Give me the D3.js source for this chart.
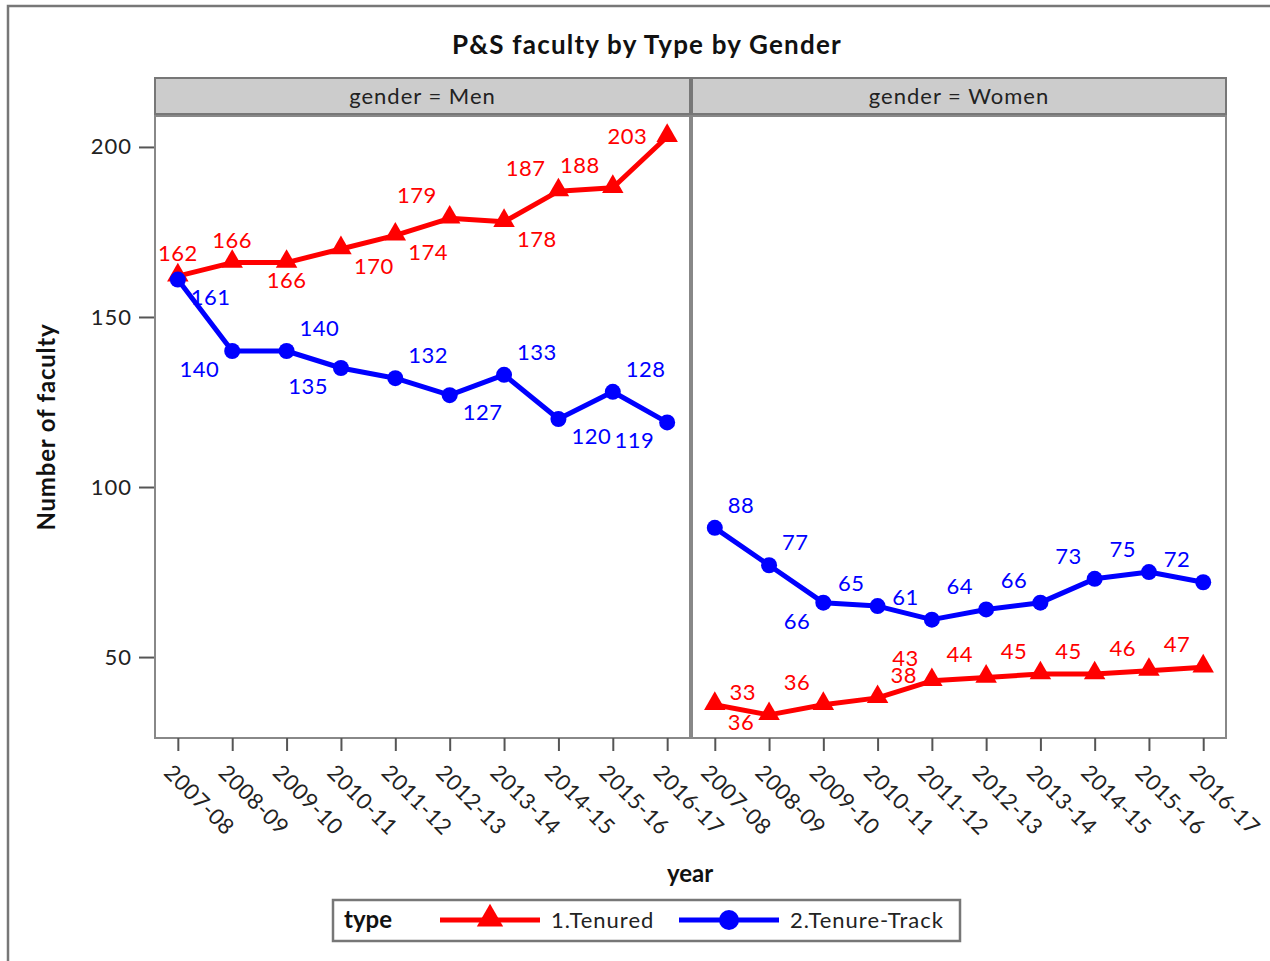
<!DOCTYPE html>
<html>
<head>
<meta charset="utf-8">
<script src="https://cdn.jsdelivr.net/npm/d3@7"></script>
<style>
  body { margin: 0; background: #fff; }
  text { font-family: Lato, "Open Sans", sans-serif; }
</style>
</head>
<body>
<div id="chart"></div>
<script>
// データ
var years = ["2007-08", "2008-09", "2009-10", "2010-11", "2011-12", "2012-13", "2013-14", "2014-15", "2015-16", "2016-17"];
var genders = ["Men", "Women"];
var types = ["1.Tenured", "2.Tenure-Track"];
var menTenured = [162, 166, 166, 170, 174, 179, 178, 187, 188, 203];
var menTrack = [161, 140, 140, 135, 132, 127, 133, 120, 128, 119];
var womenTenured = [36, 33, 36, 38, 43, 44, 45, 45, 46, 47];
var womenTrack = [88, 77, 66, 65, 61, 64, 66, 73, 75, 72];
var yTicks = [50, 100, 150, 200];

// ラベルの置き場所 (t, b, tl, tr, bl, br, l)
var menTenuredPos = ["t", "t", "b", "br", "br", "tl", "br", "tl", "tl", "l"];
var menTrackPos = ["br", "bl", "tr", "bl", "tr", "br", "tr", "br", "tr", "bl"];
var womenTenuredPos = ["br", "tl", "tl", "tr", "tl", "tl", "tl", "tl", "tl", "tl"];
var womenTrackPos = ["tr", "tr", "bl", "tl", "tl", "tl", "tl", "tl", "tl", "tl"];

var series = {
  Men: [
    { type: types[0], values: menTenured, pos: menTenuredPos },
    { type: types[1], values: menTrack, pos: menTrackPos }
  ],
  Women: [
    { type: types[0], values: womenTenured, pos: womenTenuredPos },
    { type: types[1], values: womenTrack, pos: womenTrackPos }
  ]
};
var colors = { "1.Tenured": "#ff0000", "2.Tenure-Track": "#0000ff" };

var W = 1270, H = 961;
var svg = d3.select("#chart").append("svg")
  .attr("width", W)
  .attr("height", H);

// 外枠
svg.append("rect")
  .attr("x", 8).attr("y", 6)
  .attr("width", W + 20).attr("height", H + 20)
  .attr("fill", "none").attr("stroke", "#777").attr("stroke-width", 2.5);

svg.append("text")
  .attr("x", 647).attr("y", 54)
  .attr("text-anchor", "middle")
  .attr("font-size", 26).attr("font-weight", "bold")
  .attr("fill", "#111")
  .style("letter-spacing", "1.2px")
  .text("P&S faculty by Type by Gender");

var plotTop = 116, plotBottom = 738;
var panelX = { Men: [155, 690], Women: [692, 1226] };

var y = d3.scaleLinear().domain([26.2, 209.1]).range([plotBottom, plotTop]);

// Y軸
var yAxis = svg.append("g")
  .attr("transform", "translate(155,0)")
  .call(d3.axisLeft(y).tickValues(yTicks).tickSize(16).tickPadding(7));
yAxis.select(".domain").remove();
yAxis.selectAll("line").attr("stroke", "#555").attr("stroke-width", 2);
yAxis.selectAll("text").attr("font-size", 22).attr("fill", "#222")
  .style("font-family", "Lato, sans-serif").style("letter-spacing", "1px");

svg.append("text")
  .attr("transform", "translate(55," + (plotTop + plotBottom) / 2 + ") rotate(-90)")
  .attr("text-anchor", "middle")
  .attr("font-size", 24).attr("font-weight", "bold").attr("fill", "#111")
  .style("letter-spacing", "0.8px")
  .text("Number of faculty");

var offsets = {
  t:  { dx: 0, dy: -15, anchor: "middle" },
  b:  { dx: 0, dy: 25, anchor: "middle" },
  tl: { dx: -13, dy: -15, anchor: "end" },
  tr: { dx: 13, dy: -15, anchor: "start" },
  bl: { dx: -13, dy: 26, anchor: "end" },
  br: { dx: 13, dy: 25, anchor: "start" },
  l:  { dx: -20, dy: 7, anchor: "end" }
};

function triangle(s) {
  return d3.symbol().type(d3.symbolTriangle).size(s)();
}

genders.forEach(function(g) {
  var x0 = panelX[g][0], x1 = panelX[g][1];
  var x = d3.scalePoint().domain(years).range([x0, x1]).padding(0.42);
  var p = svg.append("g");

  // ヘッダー
  p.append("rect")
    .attr("x", x0).attr("y", 78)
    .attr("width", x1 - x0).attr("height", 36)
    .attr("fill", "#cccccc").attr("stroke", "#777").attr("stroke-width", 2);
  p.append("text")
    .attr("x", (x0 + x1) / 2).attr("y", 104)
    .attr("text-anchor", "middle")
    .attr("font-size", 22).attr("fill", "#222")
    .style("letter-spacing", "1px")
    .text("gender = " + g);

  // パネル
  p.append("rect")
    .attr("x", x0).attr("y", plotTop)
    .attr("width", x1 - x0).attr("height", plotBottom - plotTop)
    .attr("fill", "#fff").attr("stroke", "#888").attr("stroke-width", 2);

  // X軸
  var xAxis = p.append("g")
    .attr("transform", "translate(0," + plotBottom + ")")
    .call(d3.axisBottom(x).tickSize(13).tickFormat(""));
  xAxis.select(".domain").remove();
  xAxis.selectAll("line").attr("stroke", "#555").attr("stroke-width", 2);

  p.selectAll(".xlab")
    .data(years)
    .enter().append("text")
    .attr("transform", function(d) {
      return "translate(" + (x(d) - 15) + "," + (plotBottom + 36) + ") rotate(45)";
    })
    .attr("font-size", 22).attr("fill", "#222")
    .style("letter-spacing", "0.5px")
    .text(function(d) { return d; });

  var line = d3.line()
    .x(function(d, i) { return x(years[i]); })
    .y(function(d) { return y(d); });

  series[g].forEach(function(s) {
    var c = colors[s.type];
    p.append("path")
      .datum(s.values)
      .attr("d", line)
      .attr("fill", "none").attr("stroke", c).attr("stroke-width", 5)
      .attr("stroke-linejoin", "round");

    var pts = p.selectAll(null)
      .data(s.values)
      .enter();
    if (s.type === types[0]) {
      pts.append("path")
        .attr("d", triangle(200))
        .attr("transform", function(d, i) {
          return "translate(" + x(years[i]) + "," + (y(d) - 1) + ")";
        })
        .attr("fill", c);
    } else {
      pts.append("circle")
        .attr("cx", function(d, i) { return x(years[i]); })
        .attr("cy", function(d) { return y(d); })
        .attr("r", 8)
        .attr("fill", c);
    }

    p.selectAll(null)
      .data(s.values)
      .enter().append("text")
      .attr("x", function(d, i) { return x(years[i]) + offsets[s.pos[i]].dx; })
      .attr("y", function(d, i) { return y(d) + offsets[s.pos[i]].dy; })
      .attr("text-anchor", function(d, i) { return offsets[s.pos[i]].anchor; })
      .attr("font-size", 22)
      .attr("fill", c)
      .style("letter-spacing", "0.5px")
      .text(function(d) { return d; });
  });
});

svg.append("text")
  .attr("x", 690).attr("y", 882)
  .attr("text-anchor", "middle")
  .attr("font-size", 24).attr("font-weight", "bold").attr("fill", "#111")
  .text("year");

// 凡例
var lg = svg.append("g");
lg.append("rect")
  .attr("x", 333).attr("y", 900)
  .attr("width", 627).attr("height", 41)
  .attr("fill", "#fff").attr("stroke", "#777").attr("stroke-width", 2.5);
lg.append("text")
  .attr("x", 344).attr("y", 928)
  .attr("font-size", 24).attr("font-weight", "bold").attr("fill", "#111")
  .text("type");

var legendItems = [
  { type: types[0], lx: 440, tx: 551 },
  { type: types[1], lx: 679, tx: 790 }
];
legendItems.forEach(function(it) {
  var c = colors[it.type];
  lg.append("line")
    .attr("x1", it.lx).attr("x2", it.lx + 100)
    .attr("y1", 920).attr("y2", 920)
    .attr("stroke", c).attr("stroke-width", 5);
  if (it.type === types[0]) {
    lg.append("path").attr("d", triangle(300))
      .attr("transform", "translate(" + (it.lx + 50) + ",919)")
      .attr("fill", c);
  } else {
    lg.append("circle").attr("cx", it.lx + 50).attr("cy", 920).attr("r", 10).attr("fill", c);
  }
  lg.append("text")
    .attr("x", it.tx).attr("y", 928)
    .attr("font-size", 22).attr("fill", "#222")
    .style("letter-spacing", "1px")
    .text(it.type);
});
</script>
</body>
</html>
